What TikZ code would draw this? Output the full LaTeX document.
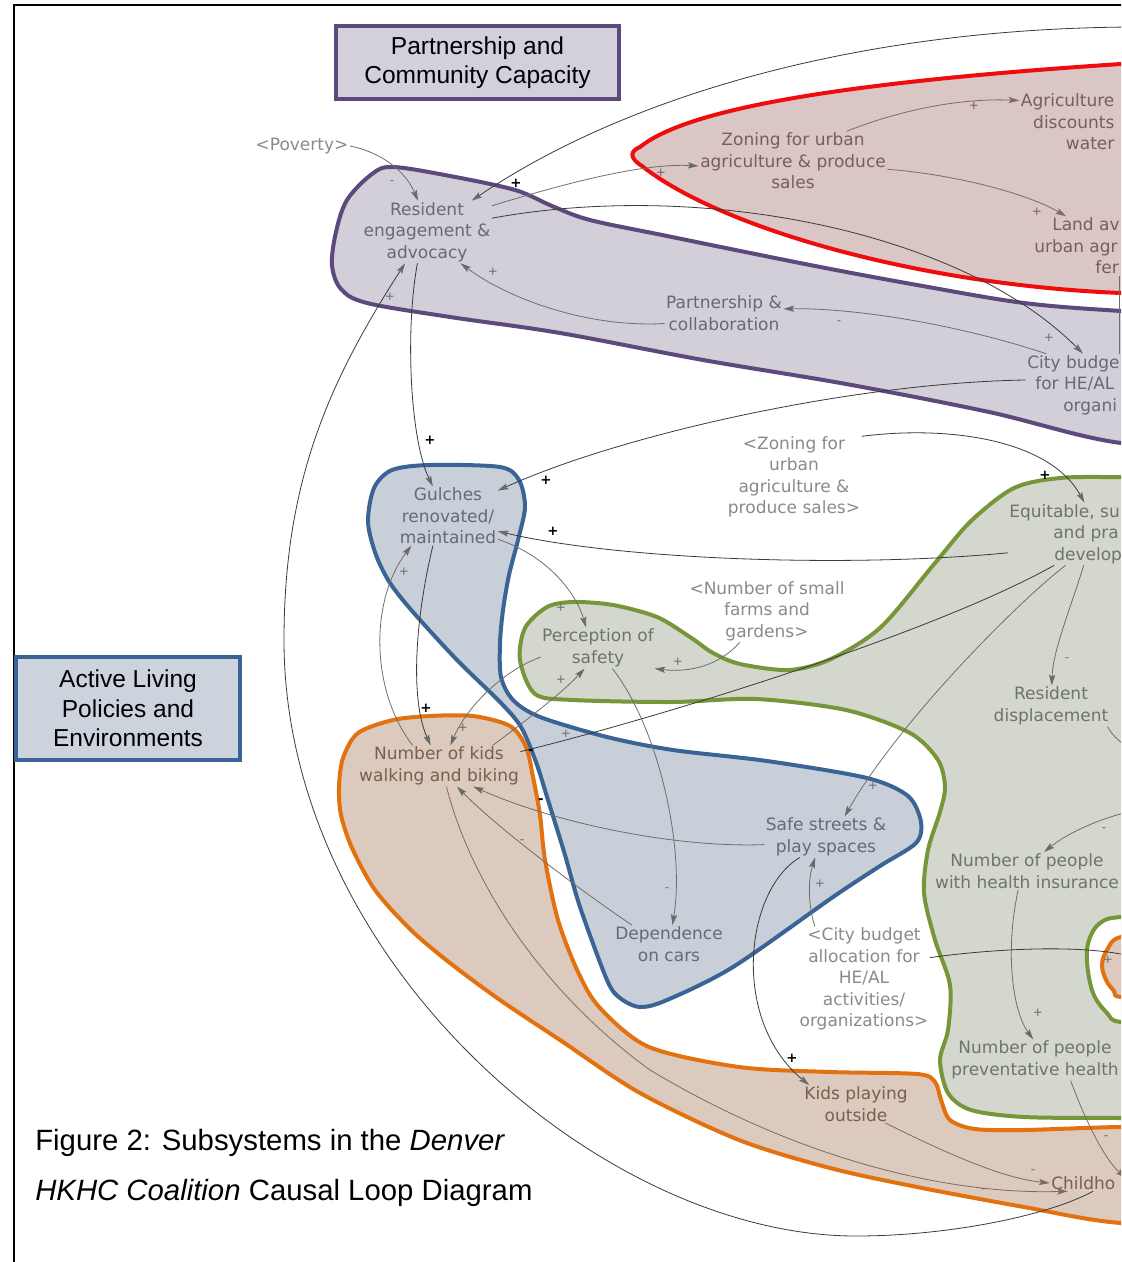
\documentclass[tikz,border=0pt]{standalone}
\usepackage{fontspec}
\setmainfont{Liberation Sans}
\newfontfamily\varfont{DejaVu Sans}
\usetikzlibrary{arrows.meta}

\definecolor{purEdge}{HTML}{5C4A7D}
\definecolor{purFill}{HTML}{D2CFD9}
\definecolor{redEdge}{HTML}{F00C0C}
\definecolor{redFill}{HTML}{D9C6C5}
\definecolor{bluEdge}{HTML}{3A6396}
\definecolor{bluFill}{HTML}{C9CFD8}
\definecolor{grnEdge}{HTML}{76963A}
\definecolor{grnFill}{HTML}{D4D7CE}
\definecolor{orgEdge}{HTML}{E3710F}
\definecolor{orgFill}{HTML}{DBCABD}
\definecolor{boxPurFill}{HTML}{D3D0DB}
\definecolor{boxBluFill}{HTML}{CDD3DD}
\definecolor{txtPur}{HTML}{6B6872}
\definecolor{txtRed}{HTML}{7A5D5D}
\definecolor{txtBlu}{HTML}{646B76}
\definecolor{txtGrn}{HTML}{6E7466}
\definecolor{txtOrg}{HTML}{7A5F4C}
\definecolor{txtShd}{HTML}{8A8A8A}
\definecolor{lnGray}{HTML}{6E6E6E}
\definecolor{lnDark}{HTML}{3A3A3A}
\definecolor{lnBrown}{HTML}{7E6B5E}
\definecolor{headGray}{HTML}{6A6A6A}

\newcommand\lblfont{\varfont\fontsize{12.75}{16.1}\selectfont}
\newcommand\ttlfont{\fontsize{18.4}{22.2}\selectfont}

\begin{document}
\begin{tikzpicture}[x=0.75pt,y=-0.75pt,
  var/.style={font=\lblfont, align=center, inner sep=1pt},
  sgn/.style={font=\varfont\fontsize{9}{9}\selectfont, text=lnGray, inner sep=0pt},
  bsgn/.style={font=\varfont\bfseries\fontsize{10}{10}\selectfont, text=black, inner sep=0pt},
  arr/.style={draw=lnGray, line width=0.6pt,
    -{Stealth[length=8pt,width=4.6pt,inset=1.5pt,color=headGray]}},
  arrdark/.style={arr, draw=lnDark},
  arrbrown/.style={draw=lnBrown, line width=0.6pt,
    -{Stealth[length=8pt,width=4.6pt,inset=1.5pt,color=lnBrown]}},
  plainln/.style={draw=lnGray, line width=0.6pt},
  blob/.style={line width=3pt, line join=round},
  titlebox/.style={font=\ttlfont, align=center, line width=3pt, inner sep=0pt}]

\useasboundingbox (0,0) rectangle (1121,1262);
\begin{scope}
\clip (0,0) rectangle (1121,1262);

% frame
\draw[line width=2pt] (14,1270) -- (14,5) -- (1130,5);

% subsystem regions
\filldraw[blob, draw=purEdge, fill=purFill] plot[smooth cycle, tension=0.55] coordinates {
  (393,167) (450,176) (515,190) (552,206) (590,220) (667,236) (810,265) (917,285)
  (1024,303) (1121,311) (1250,318) (1250,445) (1121,443) (989,412) (846,384)
  (703,360) (560,333) (450,317) (367,303) (341,289) (332,265) (336,232) (347,200) (372,174)};

\filldraw[blob, draw=redEdge, fill=redFill]
  (640,147) .. controls (680,115) and (800,85) .. (1121,64) -- (1250,58) -- (1250,300)
  -- (1121,293) .. controls (920,285) and (720,228) .. (642,166)
  .. controls (629,158) and (630,151) .. cycle;

\filldraw[blob, draw=grnEdge, fill=grnFill] plot[smooth cycle, tension=0.5] coordinates {
  (520,660) (525,628) (547,607) (573,602) (613,605) (657,617) (690,637) (713,653)
  (740,664) (789,670) (831,659) (881,627) (935,563) (971,521) (1014,488) (1060,478)
  (1121,477) (1250,477) (1250,1118) (1121,1118) (1024,1117) (971,1110) (948,1093)
  (940,1060) (948,1030) (950,985) (935,940) (924,893) (928,850) (940,812) (945,787)
  (938,760) (910,733) (846,710) (756,699) (673,702) (573,700) (535,694)};

\filldraw[blob, draw=grnEdge, fill=white] plot[smooth cycle, tension=0.6] coordinates {
  (1121,917) (1100,923) (1089,940) (1087,962) (1093,993) (1107,1013) (1121,1022)
  (1180,1022) (1180,917)};
\filldraw[blob, draw=orgEdge, fill=orgFill] plot[smooth cycle, tension=0.6] coordinates {
  (1121,937) (1107,950) (1102,965) (1106,980) (1114,991) (1121,997) (1170,997) (1170,937)};

\filldraw[blob, draw=bluEdge, fill=bluFill] plot[smooth cycle, tension=0.5] coordinates {
  (368,522) (374,488) (392,470) (430,465) (500,467) (519,480) (525,507) (518,540)
  (509,575) (503,610) (500,643) (501,677) (513,700) (540,717) (607,737) (673,750)
  (767,761) (867,778) (908,796) (921,822) (916,843) (880,866) (833,897) (733,967)
  (667,1000) (640,1007) (620,998) (607,980) (580,907) (565,855) (548,800) (536,762)
  (521,727) (500,702) (457,660) (413,612) (390,583) (376,555)};

\filldraw[blob, draw=orgEdge, fill=orgFill] plot[smooth cycle, tension=0.5] coordinates {
  (339,787) (343,758) (358,733) (393,720) (430,716) (473,716) (510,726) (526,747)
  (533,777) (540,815) (545,860) (558,920) (578,972) (600,1008) (649,1047) (739,1067)
  (830,1072) (917,1074) (935,1082) (941,1100) (950,1120) (975,1129) (1024,1130)
  (1121,1127) (1250,1127) (1250,1223) (1121,1223) (1024,1207) (917,1187) (830,1168)
  (739,1140) (640,1093) (560,1040) (500,1000) (450,963) (411,930) (375,890)
  (352,848) (341,815)};

% subsystem titles
\node[titlebox, draw=purEdge, fill=boxPurFill, minimum width=212pt, minimum height=54.75pt]
  (ttlpcc) at (477.5,62.5) {Partnership and\\Community Capacity};
\node[titlebox, draw=bluEdge, fill=boxBluFill, minimum width=168pt, minimum height=77.25pt]
  (ttlal) at (128,708.5) {Active Living\\Policies and\\Environments};

% variables
\node[var, text=txtShd] (pov) at (302,146) {<Poverty>};
\node[var, text=txtPur] (res) at (427,232) {Resident\\engagement \&\\advocacy};
\node[var, text=txtRed] (zon) at (793,161) {Zoning for urban\\agriculture \& produce\\sales};
\node[var, text=txtRed, align=right, anchor=east] (agr) at (1116,122) {Agriculture\\discounts\\water};
\node[var, text=txtRed, align=left, anchor=west] (land) at (1032.7,246) {\hspace*{13.5pt}Land av\\urban agr\\\hspace*{45.75pt}fer};
\node[var, text=txtPur] (pc) at (724,313) {Partnership \&\\collaboration};
\node[var, text=txtPur, align=left, anchor=west] (cb) at (1025.7,385) {City budge\\\hspace*{6pt}for HE/AL\\\hspace*{27pt}organi};
\node[var, text=txtShd] (zs) at (794,477) {<Zoning for\\urban\\agriculture \&\\produce sales>};
\node[var, text=txtBlu] (gul) at (448,516) {Gulches\\renovated/\\maintained};
\node[var, text=txtGrn, align=left, anchor=west] (eq) at (1007.7,534) {Equitable, su\\\hspace*{33pt}and pra\\\hspace*{33.75pt}develop};
\node[var, text=txtShd] (nsf) at (767,611) {<Number of small\\farms and\\gardens>};
\node[var, text=txtGrn] (per) at (598,648) {Perception of\\safety};
\node[var, text=txtGrn] (rd) at (1051,706) {Resident\\displacement};
\node[var, text=txtOrg] (kids) at (439,766) {Number of kids\\walking and biking};
\node[var, text=txtBlu] (safe) at (826,837) {Safe streets \&\\play spaces};
\node[var, text=txtGrn] (nhi) at (1027,871) {Number of people\\with health insurance};
\node[var, text=txtBlu] (dep) at (669,944) {Dependence\\on cars};
\node[var, text=txtShd] (cbs) at (864,979) {<City budget\\allocation for\\HE/AL\\activities/\\organizations>};
\node[var, text=txtGrn] (nph) at (1035,1060) {Number of people\\preventative health};
\node[var, text=txtOrg] (kpo) at (856,1104) {Kids playing\\outside};
\node[var, text=txtOrg, anchor=west] (child) at (1049.7,1183) {Childho};

% loose ends running past the edge
\coordinate (topin) at (1135,27);
\coordinate (nphout) at (1126,1178);
\coordinate (nhiin) at (1128,812);
\coordinate (rdout) at (1128,748);
\coordinate (cbsout) at (1135,957);
\coordinate (lx) at (1119,0);

% causal links
\draw[arr] (pov.east) .. controls (380,152) and (405,170) .. (res.106);
\draw[arrdark] (topin) .. controls (850,28) and (620,100) .. (res.35);
\draw[arr] (res.22) .. controls (560,185) and (640,163) .. (zon.183);
\draw[arrdark] (res.12) .. controls (700,180) and (960,230) .. (cb.73);
\draw[arr] (cb.131) .. controls (950,322) and (850,308) .. (pc.4);
\draw[arr] (pc.190) .. controls (590,328) and (510,300) .. (res.-43);
\draw[arrdark] (cb.174) .. controls (850,383) and (620,435) .. (gul.27);
\draw[arrdark] (res.-107) .. controls (405,330) and (410,440) .. (gul.117);
\draw[arrdark] (child.-40) .. controls (1050,1215) and (950,1236) .. (856,1236)
   .. controls (600,1236) and (284,960) .. (284,640)
   .. controls (284,480) and (330,380) .. (res.235);
\draw[arrbrown] (kids.-70) .. controls (470,880) and (540,990) .. (650,1070)
   .. controls (800,1160) and (950,1195) .. (child.-152);
\draw[arrbrown] (kpo.-33) .. controls (940,1150) and (1000,1178) .. (child.west);
\draw[arrbrown] (nph.-30) .. controls (1085,1120) and (1105,1160) .. (nphout);
\draw[arrdark] (safe.218) .. controls (745,890) and (730,1020) .. (kpo.158);
\draw[arr] (cbs.133) .. controls (808,905) and (808,880) .. (safe.242);
\draw[arr] (eq.-90) .. controls (1020,600) and (900,720) .. (safe.48);
\draw[plainln, draw=lnDark] (eq.-110) .. controls (930,635) and (650,720) .. (kids.10);
\draw[arr] (dep.153) .. controls (580,890) and (500,830) .. (kids.-49);
\draw[arr] (safe.187) .. controls (680,848) and (560,825) .. (kids.-31);
\draw[arr] (per.-55) .. controls (660,730) and (685,850) .. (dep.80);
\draw[arr] (gul.-25) .. controls (545,555) and (575,590) .. (per.120);
\draw[arr] (nsf.-131) .. controls (720,665) and (690,673) .. (per.-20);
\draw[arr] (per.189) .. controls (500,672) and (465,710) .. (kids.61);
\draw[arr] (kids.21) .. controls (520,725) and (560,695) .. (per.-123);
\draw[arrdark] (gul.-117) .. controls (415,620) and (410,700) .. (kids.112);
\draw[arr] (kids.142) .. controls (370,690) and (370,600) .. (gul.219);
\draw[arr] (eq.-60) .. controls (1070,610) and (1053,650) .. (rd.88);
\draw[arrdark] (zs.31) .. controls (950,425) and (1050,440) .. (eq.59);
\draw[arrdark] (eq.198) .. controls (850,568) and (620,560) .. (gul.-17);
\draw[arrbrown] (zon.29) .. controls (900,110) and (960,98) .. (agr.156);
\draw[arrbrown] (zon.-5) .. controls (960,175) and (1030,195) .. (land.110);
\draw[plainln] (land.south -| lx) -- (cb.north -| lx);
\draw[arr] (nhi.-115) .. controls (1005,950) and (1012,1010) .. (nph.95);
\draw[arr] (nhiin) .. controls (1095,820) and (1065,835) .. (nhi.48);
\draw[plainln] (rd.-20) .. controls (1112,735) and (1118,740) .. (rdout);
\draw[arrdark] (cbs.18) .. controls (1000,948) and (1080,945) .. (cbsout);

% link polarities
\node[sgn] (p1) at (392,183) {-};
\node[bsgn] (p2) at (516,183) {+};
\node[sgn, text=txtRed] (p3) at (661,173) {+};
\node[sgn] (p4) at (1049,338) {+};
\node[sgn] (p5) at (839,323) {-};
\node[sgn] (p6) at (493,272) {+};
\node[bsgn] (p7) at (546,480) {+};
\node[bsgn] (p8) at (430,440) {+};
\node[sgn] (p9) at (390,297) {+};
\node[sgn, text=txtOrg] (p10) at (983,1191) {-};
\node[sgn, text=txtOrg] (p11) at (1033,1172) {-};
\node[sgn, text=txtOrg] (p12) at (1106,1138) {-};
\node[bsgn] (p13) at (792,1058) {+};
\node[sgn] (p14) at (820,884) {+};
\node[sgn] (p15) at (873,786) {+};
\node[sgn] (p16) at (566,734) {+};
\node[bsgn] (p17) at (531,752) {-};
\node[sgn, text=txtRed] (p18) at (974,106) {+};
\node[sgn, text=txtRed] (p19) at (1037,212) {+};
\node[sgn] (p20) at (1038,1013) {+};
\node[sgn] (p21) at (1104,830) {-};
\node[sgn] (p22) at (1108,960) {+};
\node[sgn, text=txtOrg] (p23) at (522,842) {-};
\node[bsgn] (p24) at (541,801) {-};
\node[sgn] (p25) at (667,890) {-};
\node[sgn] (p26) at (561,608) {+};
\node[sgn] (p27) at (678,662) {+};
\node[sgn, text=txtOrg] (p28) at (463,728) {+};
\node[sgn] (p29) at (561,680) {+};
\node[bsgn] (p30) at (426,708) {+};
\node[sgn] (p31) at (404,572) {+};
\node[sgn] (p32) at (1067,660) {-};
\node[bsgn] (p33) at (1045,475) {+};
\node[bsgn] (p34) at (553,531) {+};

% caption
\node[anchor=west, inner sep=0pt, font=\fontsize{22}{26}\selectfont] (cap1) at (35,1143)
  {Figure 2: Subsystems in the \textit{Denver}};
\node[anchor=west, inner sep=0pt, font=\fontsize{22}{26}\selectfont] (cap2) at (35,1193)
  {\textit{HKHC Coalition} Causal Loop Diagram};
\end{scope}
\end{tikzpicture}
\end{document}
